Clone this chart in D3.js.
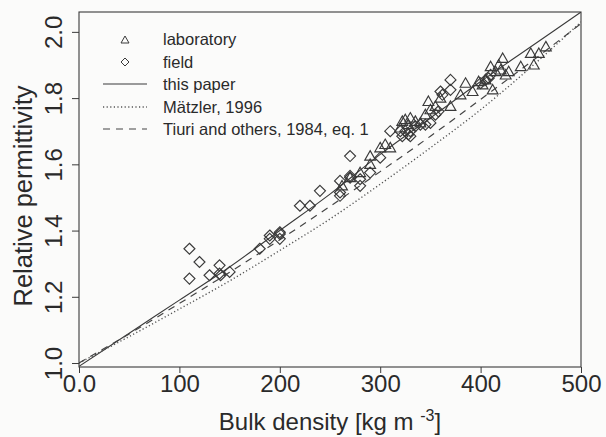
<!DOCTYPE html>
<html><head><meta charset="utf-8">
<script src="https://cdn.jsdelivr.net/npm/d3@7"></script>
<style>
html,body{margin:0;padding:0;background:#fbfbfa;}
svg{display:block;}
text{font-family:"Liberation Sans",Arial,Helvetica,sans-serif;fill:#2a2a2a;}
</style></head>
<body>
<script>
// ---- data ----
const labDensity = [262,270,280,290,290,300,305,310,320,322,325,328,330,335,340,345,348,350,355,360,370,380,385,392,398,402,405,410,412,415,418,420,422,425,428,440,450,453,458,465];
const labPerm    = [1.535,1.56,1.575,1.60,1.625,1.65,1.66,1.65,1.71,1.73,1.735,1.72,1.74,1.73,1.725,1.75,1.79,1.765,1.775,1.80,1.775,1.81,1.845,1.82,1.85,1.84,1.855,1.895,1.825,1.88,1.90,1.885,1.92,1.87,1.88,1.895,1.935,1.90,1.935,1.955];
const fieldDensity = [110,110,120,130,140,140,141,150,180,190,190,200,200,200,220,230,240,260,260,260,270,270,270,280,280,290,300,310,320,322,325,328,330,330,335,340,345,350,355,358,360,362,370,370,400,405,408,410];
const fieldPerm    = [1.345,1.255,1.305,1.265,1.295,1.27,1.265,1.275,1.345,1.385,1.375,1.395,1.39,1.375,1.475,1.475,1.52,1.55,1.515,1.505,1.625,1.565,1.56,1.535,1.555,1.575,1.62,1.70,1.70,1.685,1.70,1.69,1.685,1.70,1.715,1.72,1.72,1.725,1.75,1.76,1.82,1.81,1.855,1.825,1.845,1.855,1.86,1.87];
const curveDensity = [0,50,100,150,200,250,300,350,400,450,500];
const thisPaper = [0.99,1.09,1.19,1.29,1.40,1.51,1.63,1.74,1.85,1.955,2.06];
const matzler   = [1.0,1.08,1.163,1.248,1.34,1.435,1.54,1.65,1.765,1.893,2.03];
const tiuri     = [1.0,1.088,1.18,1.274,1.372,1.473,1.578,1.685,1.796,1.909,2.025];
const xTicks = [0,100,200,300,400,500];
const xTickLabels = ["0.0","100","200","300","400","500"];
const yTicks = [1.0,1.2,1.4,1.6,1.8,2.0];
const yTickLabels = ["1.0","1.2","1.4","1.6","1.8","2.0"];
const legendLabels = ["laboratory","field","this paper","Mätzler, 1996","Tiuri and others, 1984, eq. 1"];

// ---- drawing ----
const W=606,H=437;
const m={left:79,right:25,top:12,bottom:70};
const svg=d3.select("body").append("svg").attr("width",W).attr("height",H);
const x=d3.scaleLinear().domain([0,500]).range([m.left,W-m.right]);
const y=d3.scaleLinear().domain([0.988,2.06]).range([H-m.bottom,m.top]);
const ink="#3a3a3a";

svg.append("clipPath").attr("id","clip").append("rect")
  .attr("x",m.left).attr("y",m.top).attr("width",x(500)-m.left).attr("height",y(0.988)-m.top);

const plot=svg.append("g").attr("clip-path","url(#clip)");
const line=d3.line().x((d,i)=>x(curveDensity[i])).y(d=>y(d)).curve(d3.curveMonotoneX);
plot.append("path").attr("d",line(thisPaper)).attr("fill","none").attr("stroke",ink).attr("stroke-width",1.1);
plot.append("path").attr("d",line(matzler)).attr("fill","none").attr("stroke","#555").attr("stroke-width",1.4).attr("stroke-dasharray","1.2,2.4");
plot.append("path").attr("d",line(tiuri)).attr("fill","none").attr("stroke","#444").attr("stroke-width",1.2).attr("stroke-dasharray","7,6");

function triPath(cx,cy,s){return `M${cx},${cy-s}L${cx+s},${cy+s*0.75}L${cx-s},${cy+s*0.75}Z`;}
function diaPath(cx,cy,s){return `M${cx},${cy-s}L${cx+s},${cy}L${cx},${cy+s}L${cx-s},${cy}Z`;}
plot.append("g").selectAll("path").data(labDensity).join("path")
  .attr("d",(d,i)=>triPath(x(d),y(labPerm[i]),5.4)).attr("fill","none").attr("stroke",ink).attr("stroke-width",1.15);
plot.append("g").selectAll("path").data(fieldDensity).join("path")
  .attr("d",(d,i)=>diaPath(x(d),y(fieldPerm[i]),5.5)).attr("fill","none").attr("stroke",ink).attr("stroke-width",1.15);

// frame
svg.append("rect").attr("x",m.left).attr("y",m.top).attr("width",x(500)-m.left).attr("height",y(0.988)-m.top)
  .attr("fill","none").attr("stroke",ink).attr("stroke-width",1.1);

// axes
const xAxis=d3.axisBottom(x).tickValues(xTicks).tickFormat((d,i)=>xTickLabels[i]).tickSize(6).tickPadding(1.5);
const gx=svg.append("g").attr("transform",`translate(0,${y(0.988)})`).call(xAxis);
gx.select(".domain").remove();
gx.selectAll("line").attr("stroke",ink);
gx.selectAll("text").attr("font-size",24).style("fill","#2a2a2a");

const yAxis=d3.axisLeft(y).tickValues(yTicks).tickFormat((d,i)=>yTickLabels[i]).tickSize(7).tickPadding(4);
const gy=svg.append("g").attr("transform",`translate(${m.left},0)`).call(yAxis);
gy.select(".domain").remove();
gy.selectAll("line").attr("stroke",ink);
gy.selectAll("text").attr("font-size",24).style("fill","#2a2a2a")
  .attr("text-anchor","middle").attr("dy",0).attr("x",null)
  .attr("transform","translate(-17,0) rotate(-90)");

// axis titles
const xt=svg.append("text").attr("x",(x(0)+x(500))/2).attr("y",430).attr("text-anchor","middle").attr("font-size",24);
xt.append("tspan").text("Bulk density [kg m ");
xt.append("tspan").text("-3").attr("font-size",16).attr("dy",-9);
xt.append("tspan").text("]").attr("dy",9);
svg.append("text").attr("transform","translate(32,196) rotate(-90)").attr("text-anchor","middle").attr("font-size",25.5).text("Relative permittivity");

// legend
const lg=svg.append("g");
const rows=[39,62,84,107,129];
const sx=125, lx0=103, lx1=147, tx=163;
lg.append("path").attr("d",triPath(sx,rows[0]+1,4)).attr("fill","none").attr("stroke",ink).attr("stroke-width",1);
lg.append("path").attr("d",diaPath(sx,rows[1],4)).attr("fill","none").attr("stroke",ink).attr("stroke-width",1);
lg.append("line").attr("x1",lx0).attr("x2",lx1).attr("y1",rows[2]).attr("y2",rows[2]).attr("stroke",ink).attr("stroke-width",1.1);
lg.append("line").attr("x1",lx0).attr("x2",lx1).attr("y1",rows[3]).attr("y2",rows[3]).attr("stroke","#555").attr("stroke-width",1.4).attr("stroke-dasharray","1.2,2.4");
lg.append("line").attr("x1",lx0).attr("x2",lx1).attr("y1",rows[4]).attr("y2",rows[4]).attr("stroke","#444").attr("stroke-width",1.2).attr("stroke-dasharray","7,6");
lg.selectAll("text.l").data(legendLabels).join("text").attr("class","l")
  .attr("x",tx).attr("y",(d,i)=>rows[i]).attr("dy","0.35em").attr("font-size",16.5).text(d=>d);
</script>
</body></html>
